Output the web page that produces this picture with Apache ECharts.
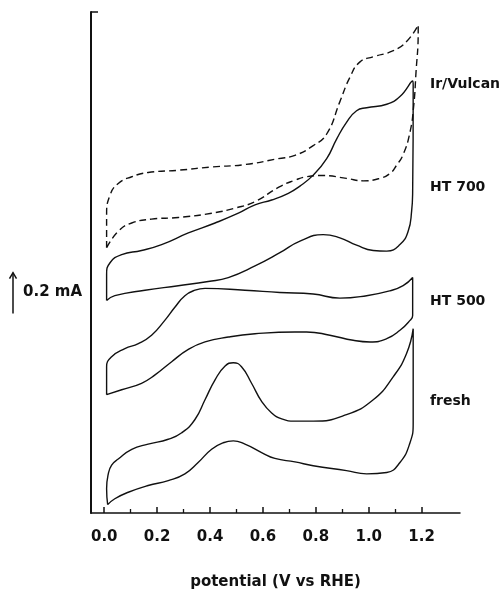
<!DOCTYPE html>
<html><head><meta charset="utf-8">
<script src="https://cdn.jsdelivr.net/npm/echarts@6/dist/echarts.min.js"></script>
<style>html,body{margin:0;padding:0;background:#fff}#c{width:504px;height:595px}</style>
</head><body><div id="c"></div>
<script>
// x ticks (V vs RHE)
const xTickLabels = [0.0, 0.2, 0.4, 0.6, 0.8, 1.0, 1.2];
const xMinorTicks = [0.1, 0.3, 0.5, 0.7, 0.9, 1.1];

// Cyclic voltammograms, offset vertically (mA), each a closed loop [V, mA]
const irVulcan = [
  [0.009,1.302],[0.009,1.464],[0.022,1.561],[0.053,1.618],[0.104,1.651],[0.166,1.672],
  [0.280,1.683],[0.406,1.699],[0.532,1.711],[0.658,1.740],[0.721,1.756],[0.790,1.804],
  [0.841,1.861],[0.891,2.020],[0.929,2.140],[0.967,2.215],[1.017,2.240],[1.093,2.270],
  [1.143,2.315],[1.187,2.396],
  [1.187,2.372],[1.178,2.150],[1.170,2.000],[1.156,1.870],[1.130,1.760],[1.105,1.707],
  [1.080,1.667],[1.042,1.643],[0.979,1.631],[0.916,1.643],[0.828,1.657],[0.765,1.651],
  [0.721,1.634],[0.660,1.600],[0.570,1.529],[0.494,1.497],[0.406,1.472],[0.280,1.451],
  [0.179,1.443],[0.104,1.424],[0.053,1.383],[0.009,1.302]
];
const ht700 = [
  [0.009,1.043],[0.009,1.172],[0.022,1.229],[0.066,1.269],[0.141,1.289],[0.217,1.318],
  [0.318,1.375],[0.419,1.424],[0.507,1.472],[0.570,1.513],[0.633,1.537],[0.696,1.570],
  [0.740,1.605],[0.790,1.659],[0.841,1.740],[0.879,1.837],[0.916,1.918],[0.954,1.975],
  [0.992,1.990],[1.068,2.007],[1.118,2.045],[1.166,2.121],
  [1.168,2.100],[1.166,1.578],[1.162,1.481],[1.149,1.383],[1.118,1.318],[1.068,1.286],
  [1.017,1.289],[0.954,1.315],[0.891,1.351],[0.828,1.367],[0.740,1.335],[0.664,1.278],
  [0.570,1.213],[0.469,1.156],[0.393,1.137],[0.280,1.116],[0.154,1.094],[0.040,1.067],
  [0.009,1.043]
];
const ht500 = [
  [0.009,0.581],[0.009,0.718],[0.028,0.767],[0.078,0.807],[0.129,0.832],[0.179,0.873],
  [0.229,0.946],[0.267,1.010],[0.305,1.067],[0.343,1.094],[0.381,1.103],[0.532,1.094],
  [0.664,1.083],[0.790,1.075],[0.891,1.055],[0.992,1.067],[1.080,1.091],[1.130,1.116],
  [1.166,1.156],
  [1.166,0.970],[1.156,0.946],[1.118,0.897],[1.068,0.856],[1.005,0.840],[0.941,0.848],
  [0.853,0.873],[0.765,0.889],[0.721,0.889],[0.570,0.880],[0.469,0.864],[0.381,0.840],
  [0.318,0.803],[0.255,0.743],[0.192,0.678],[0.141,0.637],[0.066,0.605],[0.009,0.581]
];
const fresh = [
  [0.013,0.041],[0.009,0.119],[0.015,0.190],[0.028,0.235],[0.053,0.265],[0.104,0.313],
  [0.166,0.338],[0.242,0.362],[0.293,0.394],[0.343,0.459],[0.381,0.556],[0.419,0.654],
  [0.457,0.722],[0.488,0.738],[0.519,0.718],[0.557,0.637],[0.595,0.548],[0.633,0.491],
  [0.671,0.462],[0.721,0.451],[0.790,0.451],[0.916,0.483],[1.017,0.556],[1.093,0.670],
  [1.143,0.783],[1.168,0.905],
  [1.168,0.880],[1.168,0.443],[1.156,0.345],[1.118,0.248],[1.068,0.199],[0.992,0.192],
  [0.916,0.208],[0.790,0.232],[0.721,0.251],[0.645,0.268],[0.595,0.297],[0.532,0.338],
  [0.488,0.354],[0.450,0.345],[0.406,0.313],[0.355,0.248],[0.305,0.192],[0.242,0.159],
  [0.166,0.135],[0.091,0.102],[0.040,0.070],[0.013,0.041]
];
const curveNames = ['Ir/Vulcan', 'HT 700', 'HT 500', 'fresh'];
const scaleBar = [0.98, 1.18]; // 0.2 mA

const chart = echarts.init(document.getElementById('c'), null, {renderer: 'canvas'});
const FONT = 'DejaVu Sans';
const INK = '#111';

function lineSeries(name, data, dashed) {
  return {
    name, type: 'line', data, xAxisIndex: 0, yAxisIndex: 0,
    showSymbol: false, smooth: 0.5, animation: false,
    lineStyle: {color: INK, width: 1.4, type: dashed ? [7, 4] : 'solid'},
    silent: true
  };
}

chart.setOption({
  animation: false,
  backgroundColor: '#fff',
  grid: {left: 91, right: 44, top: 12, bottom: 77},
  xAxis: [{
    type: 'value', min: -0.05, max: 1.345, position: 'bottom',
    name: 'potential (V vs RHE)', nameLocation: 'middle', nameGap: 62,
    nameTextStyle: {fontFamily: FONT, fontWeight: 'bold', fontSize: 15, color: INK},
    axisLine: {show: true, onZero: false, lineStyle: {color: INK, width: 1.5}},
    axisTick: {show: true, inside: true, length: 6, customValues: xTickLabels, lineStyle: {color: INK, width: 1.5}},
    axisLabel: {show: true, customValues: xTickLabels, margin: 17, formatter: v => v.toFixed(1),
      fontFamily: FONT, fontWeight: 'bold', fontSize: 15, color: INK},
    splitLine: {show: false}
  }, {
    type: 'value', min: -0.05, max: 1.345, position: 'bottom', offset: 0,
    axisLine: {show: false, onZero: false},
    axisTick: {show: true, inside: true, length: 4, customValues: xMinorTicks, lineStyle: {color: INK, width: 1.3}},
    axisLabel: {show: false},
    splitLine: {show: false}
  }],
  yAxis: {
    type: 'value', min: 0, max: 2.46,
    axisLine: {show: true, onZero: false, lineStyle: {color: INK, width: 2}},
    axisTick: {show: true, inside: true, length: 7, customValues: [2.46], lineStyle: {color: INK, width: 1.5}},
    axisLabel: {show: false},
    splitLine: {show: false}
  },
  series: [
    lineSeries(curveNames[0], irVulcan, true),
    lineSeries(curveNames[1], ht700, false),
    lineSeries(curveNames[2], ht500, false),
    lineSeries(curveNames[3], fresh, false)
  ]
});

const yTop = chart.convertToPixel({yAxisIndex: 0}, scaleBar[1]);
const yBot = chart.convertToPixel({yAxisIndex: 0}, scaleBar[0]);
const labelStyle = {fontFamily: FONT, fontWeight: 'bold', fontSize: 14, fill: INK};
const labelY = [85, 188, 302, 402];
chart.setOption({
  graphic: [
    ...curveNames.map((t, i) => ({type: 'text', left: 430, top: labelY[i] - 8, style: Object.assign({text: t}, labelStyle)})),
    {type: 'line', shape: {x1: 13, y1: yTop, x2: 13, y2: yBot}, style: {stroke: INK, lineWidth: 1.5}},
    {type: 'polyline', shape: {points: [[9.5, yTop + 6], [13, yTop], [16.5, yTop + 6]]}, style: {stroke: INK, lineWidth: 1.5, fill: null}},
    {type: 'text', left: 23, top: (yTop + yBot) / 2 - 8, style: {text: '0.2 mA', fontFamily: FONT, fontWeight: 'bold', fontSize: 15, fill: INK}}
  ]
});
</script>
</body></html>
